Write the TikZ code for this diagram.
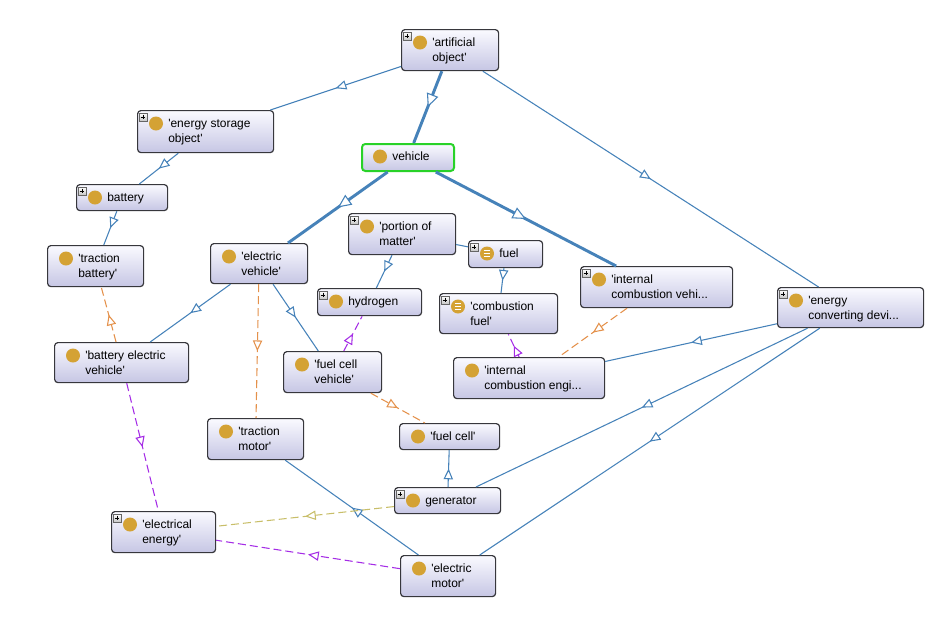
\documentclass[tikz,border=0pt]{standalone}
\usepackage{fontspec}
\setmainfont{Liberation Sans}
\usetikzlibrary{arrows.meta,decorations.markings}
\definecolor{edgeblue}{RGB}{70,130,185}
\definecolor{relorange}{RGB}{228,145,75}
\definecolor{relpurple}{RGB}{165,45,230}
\definecolor{relolive}{RGB}{200,190,105}
\definecolor{owlgold}{RGB}{212,162,52}
\definecolor{boxtop}{RGB}{250,250,255}
\definecolor{boxbottom}{RGB}{198,198,228}
\definecolor{boxborder}{RGB}{55,55,60}
\definecolor{selgreen}{RGB}{40,210,40}
\newcommand{\sq}{\textquotesingle}
\tikzset{
  owlbox/.style={draw=boxborder, line width=0.9pt, rounded corners=2.5pt, top color=boxtop, bottom color=boxbottom, inner sep=0pt},
  owltext/.style={inner sep=0pt, align=left, anchor=north west, font=\fontsize{9}{11.25}\selectfont},
  owldot/.style={circle, fill=owlgold, inner sep=0pt, minimum size=10.5pt},
  owlequiv/.style={owldot, path picture={\foreach \dy in {-2,0,2} \draw[white, line width=0.9pt] ([shift={(-2.6pt,\dy pt)}]path picture bounding box.center) -- ++(5.2pt,0pt);}},
  plusbox/.style={draw=gray!80!black, line width=0.5pt, minimum size=6pt, inner sep=0pt, top color=white, bottom color=gray!45,
    path picture={\draw[black, line width=0.7pt] ([xshift=1.2pt]path picture bounding box.west) -- ([xshift=-1.2pt]path picture bounding box.east)
      ([yshift=-1.2pt]path picture bounding box.north) -- ([yshift=1.2pt]path picture bounding box.south);}},
  midtri/.style 2 args={postaction={decorate}, decoration={markings, mark=at position 0.5 with {\arrow{Triangle[fill=white, length=#1, width=#2, line width=0.8pt]}}}},
  isa/.style={edgeblue, line width=0.8pt, midtri={8pt}{7pt}},
  isamain/.style={edgeblue, line width=2.2pt, midtri={10pt}{9pt}},
  link/.style={edgeblue, line width=0.8pt},
  rel/.style={line width=0.8pt, dash pattern=on 6pt off 3pt, midtri={8pt}{7pt}},
}
% class box: [box options]{name}{x1}{y1}{x2}{y2}{text}
\newcommand{\owlcore}[7]{%
  \node[owlbox, #1, minimum width={(#5-#3)*0.75pt}, minimum height={(#6-#4)*0.75pt}, anchor=north west] (#2) at (#3,#4) {};
  \node[owltext] (#2-text) at (#3+31,#4+8.4) {\rule{0pt}{6.8pt}#7};
}
\newcommand{\owlclass}[7][]{\owlcore{#1}{#2}{#3}{#4}{#5}{#6}{#7}\node[owldot] (#2-icon) at (#3+19,#4+13.5) {};}
\newcommand{\owlequivclass}[7][]{\owlcore{#1}{#2}{#3}{#4}{#5}{#6}{#7}\node[owlequiv] (#2-icon) at (#3+19,#4+13.5) {};}
\newcommand{\owlplus}[1]{\node[plusbox] (#1-plus) at ([shift={(6,7)}]#1.north west) {};}

\begin{document}
\begin{tikzpicture}[x=0.75pt, y=-0.75pt]
  \useasboundingbox (0,0) rectangle (935,633);

  % classes
  \owlclass{ao}{401}{29}{498}{70}{\sq artificial\\object\sq}
  \owlclass{eso}{137}{110}{273}{152}{\sq energy storage\\object\sq}
  \owlclass[draw=selgreen, line width=1.5pt]{veh}{361}{143}{453}{170}{vehicle}
  \owlclass{bat}{76}{184}{167}{210}{battery}
  \owlclass{tb}{47}{245}{143}{286}{\sq traction\\battery\sq}
  \owlclass{ev}{210}{243}{307}{283}{\sq electric\\vehicle\sq}
  \owlclass{pom}{348}{213}{455}{254}{\sq portion of\\matter\sq}
  \owlequivclass{fuel}{468}{240}{542}{267}{fuel}
  \owlclass{icv}{580}{266}{732}{307}{\sq internal\\combustion vehi...}
  \owlclass{hyd}{317}{288}{421}{315}{hydrogen}
  \owlequivclass{cf}{439}{293}{557}{333}{\sq combustion\\fuel\sq}
  \owlclass{ecd}{777}{287}{923}{327}{\sq energy\\converting devi...}
  \owlclass{bev}{54}{342}{188}{382}{\sq battery electric\\vehicle\sq}
  \owlclass{fcv}{283}{351}{381}{392}{\sq fuel cell\\vehicle\sq}
  \owlclass{ice}{453}{357}{604}{398}{\sq internal\\combustion engi...}
  \owlclass{tm}{207}{418}{303}{459}{\sq traction\\motor\sq}
  \owlclass{fc}{399}{423}{499}{449}{\sq fuel cell\sq}
  \owlclass{gen}{394}{487}{500}{513}{generator}
  \owlclass{ee}{111}{511}{215}{552}{\sq electrical\\energy\sq}
  \owlclass{em}{400}{555}{495}{596}{\sq electric\\motor\sq}
  \foreach \n in {ao,eso,bat,pom,fuel,icv,hyd,cf,ecd,gen,ee} {\owlplus{\n}}

  % subclass edges
  \draw[isamain] (ao) -- (veh);
  \draw[isamain] (veh) -- (ev);
  \draw[isamain] (veh) -- (icv);
  \draw[isa] (ao) -- (eso);
  \draw[isa] (ao) -- (ecd);
  \draw[isa] (eso) -- (bat);
  \draw[isa] (bat) -- (tb);
  \draw[isa] (ev) -- (bev);
  \draw[isa] (ev) -- (fcv);
  \draw[isa] (pom) -- (hyd);
  \draw[link] (pom) -- (fuel);
  \draw[isa] (fuel) -- (cf);
  \draw[isa] (ecd) -- (ice);
  \draw[isa] (ecd) -- (gen);
  \draw[isa] (ecd) -- (em);
  \draw[isa] (gen) -- (fc);
  \draw[isa] (em) -- (tm);

  % property edges
  \draw[rel, relorange] (bev) -- (tb);
  \draw[rel, relorange] (ev) -- (tm);
  \draw[rel, relorange] (fcv) -- (fc);
  \draw[rel, relorange] (icv) -- (ice);
  \draw[rel, relpurple] (fcv) -- (hyd);
  \draw[rel, relpurple] (ice) -- (cf);
  \draw[rel, relpurple] (bev) -- (ee);
  \draw[rel, relpurple] (em) -- (ee);
  \draw[rel, relolive] (gen) -- (ee);
\end{tikzpicture}
\end{document}
